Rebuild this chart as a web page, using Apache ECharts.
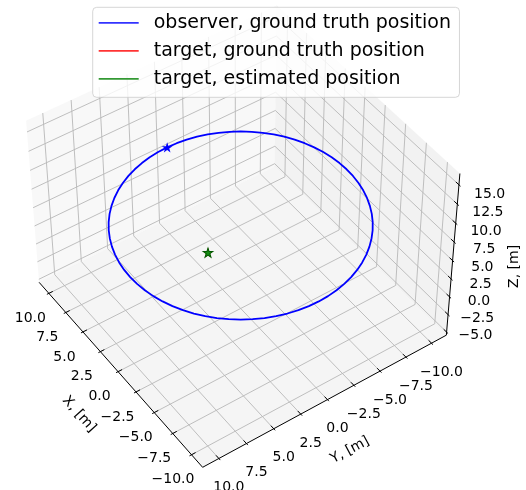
<!DOCTYPE html>
<html>
<head>
<meta charset="utf-8">
<script src="https://cdn.jsdelivr.net/npm/echarts@6/dist/echarts.min.js"></script>
<style>
  html, body { margin: 0; padding: 0; background: #ffffff; }
  #chart { width: 526px; height: 490px; }
</style>
</head>
<body>
<div id="chart"></div>
<script>
// ---- axis ranges, ticks and titles ----
const xLim = [-11, 11];
const yLim = [-11, 11];
const zLim = [-5, 16];
const xTicks = [-10, -7.5, -5, -2.5, 0, 2.5, 5, 7.5, 10];
const yTicks = [-10, -7.5, -5, -2.5, 0, 2.5, 5, 7.5, 10];
const zTicks = [-5, -2.5, 0, 2.5, 5, 7.5, 10, 12.5, 15];
const axisTitles = ['X, [m]', 'Y, [m]', 'Z, [m]'];

// ---- series ----
const seriesNames = [
  'observer, ground truth position',
  'target, ground truth position',
  'target, estimated position'
];

// observer ground-truth track (x, y in metres), flown at constant altitude
const observerX = [10.000, 9.962, 9.848, 9.659, 9.397, 9.063, 8.660, 8.192, 7.660, 7.071, 6.428, 5.736, 5.000, 4.226, 3.420, 2.588, 1.736, 0.872, 0.000,
  -0.872, -1.736, -2.588, -3.420, -4.226, -5.000, -5.736, -6.428, -7.071, -7.660, -8.192, -8.660, -9.063, -9.397, -9.659, -9.848, -9.962, -10.000,
  -9.962, -9.848, -9.659, -9.397, -9.063, -8.660, -8.192, -7.660, -7.071, -6.428, -5.736, -5.000, -4.226, -3.420, -2.588, -1.736, -0.872, 0.000,
  0.872, 1.736, 2.588, 3.420, 4.226, 5.000, 5.736, 6.428, 7.071, 7.660, 8.192, 8.660, 9.063, 9.397, 9.659, 9.848, 9.962, 10.000];
const observerY = [0.000, 0.872, 1.736, 2.588, 3.420, 4.226, 5.000, 5.736, 6.428, 7.071, 7.660, 8.192, 8.660, 9.063, 9.397, 9.659, 9.848, 9.962, 10.000,
  9.962, 9.848, 9.659, 9.397, 9.063, 8.660, 8.192, 7.660, 7.071, 6.428, 5.736, 5.000, 4.226, 3.420, 2.588, 1.736, 0.872, 0.000,
  -0.872, -1.736, -2.588, -3.420, -4.226, -5.000, -5.736, -6.428, -7.071, -7.660, -8.192, -8.660, -9.063, -9.397, -9.659, -9.848, -9.962, -10.000,
  -9.962, -9.848, -9.659, -9.397, -9.063, -8.660, -8.192, -7.660, -7.071, -6.428, -5.736, -5.000, -4.226, -3.420, -2.588, -1.736, -0.872, 0.000];
const observerAltitude = 6.6;

// target position: ground truth and estimate (x, y, z)
const targetTrue = [3, 1, 0];
const targetEstimate = [3, 1, 0];

// ---- perspective camera (elevation / azimuth in degrees) ----
const camera = { elev: 45, azim: 145, dist: 10 };
const boxAspect = [4, 4, 3];
const aspectNorm = Math.hypot(boxAspect[0], boxAspect[1], boxAspect[2]);
const box = boxAspect.map(a => a * 1.8294640721620434 / aspectNorm);
const el = camera.elev * Math.PI / 180;
const az = camera.azim * Math.PI / 180;
const W = [Math.cos(el) * Math.cos(az), Math.cos(el) * Math.sin(az), Math.sin(el)];
const U = [-Math.sin(az), Math.cos(az), 0];
const V = [-Math.sin(el) * Math.cos(az), -Math.sin(el) * Math.sin(az), Math.cos(el)];
const lims = [xLim, yLim, zLim];
const dot = (a, b) => a[0] * b[0] + a[1] * b[1] + a[2] * b[2];

// world point -> 2D view coordinates used by the cartesian axes below
function project(p) {
  const q = [0, 1, 2].map(i => ((p[i] - lims[i][0]) / (lims[i][1] - lims[i][0]) - 0.5) * box[i]);
  const depth = camera.dist - dot(W, q);
  return [dot(U, q) / depth, dot(V, q) / depth];
}

// drawn box is slightly larger than the limits
const lo = lims.map(l => l[0] - (l[1] - l[0]) / 48);
const hi = lims.map(l => l[1] + (l[1] - l[0]) / 48);
const delta = lims.map(l => (l[1] - l[0]) / 12);

// back panes
const panes = [
  { fill: 'rgba(242,242,242,0.5)', pts: [[hi[0], lo[1], lo[2]], [hi[0], hi[1], lo[2]], [hi[0], hi[1], hi[2]], [hi[0], lo[1], hi[2]]] },
  { fill: 'rgba(230,230,230,0.5)', pts: [[lo[0], lo[1], lo[2]], [hi[0], lo[1], lo[2]], [hi[0], lo[1], hi[2]], [lo[0], lo[1], hi[2]]] },
  { fill: 'rgba(236,236,236,0.5)', pts: [[lo[0], lo[1], lo[2]], [hi[0], lo[1], lo[2]], [hi[0], hi[1], lo[2]], [lo[0], hi[1], lo[2]]] }
];

// grid lines, folded over floor and walls
const gridLines = [];
xTicks.forEach(t => gridLines.push([[t, hi[1], lo[2]], [t, lo[1], lo[2]], [t, lo[1], hi[2]]]));
yTicks.forEach(t => gridLines.push([[lo[0], t, lo[2]], [hi[0], t, lo[2]], [hi[0], t, hi[2]]]));
zTicks.forEach(t => gridLines.push([[lo[0], lo[1], t], [hi[0], lo[1], t], [hi[0], hi[1], t]]));

// axis lines and tick marks
const axisSegs = [
  [[lo[0], hi[1], lo[2]], [hi[0], hi[1], lo[2]]],
  [[lo[0], lo[1], lo[2]], [lo[0], hi[1], lo[2]]],
  [[lo[0], lo[1], lo[2]], [lo[0], lo[1], hi[2]]]
];
xTicks.forEach(t => axisSegs.push([[t, hi[1] + 0.1 * delta[1], lo[2]], [t, hi[1] - 0.2 * delta[1], lo[2]]]));
yTicks.forEach(t => axisSegs.push([[lo[0] - 0.1 * delta[0], t, lo[2]], [lo[0] + 0.2 * delta[0], t, lo[2]]]));
zTicks.forEach(t => axisSegs.push([[lo[0] - 0.1 * delta[0], lo[1], t], [lo[0] + 0.2 * delta[0], lo[1], t]]));

// tick labels: anchor on the axis edge plus a screen offset
const fmt = v => (v < 0 ? '\u2212' : '') + Math.abs(v).toFixed(1);
const labels = [];
xTicks.forEach(t => labels.push({ p: [t, hi[1], lo[2]], dx: -18.5, dy: 25, text: fmt(t), rot: 0 }));
yTicks.forEach(t => labels.push({ p: [lo[0], t, lo[2]], dx: 10, dy: 29, text: fmt(t), rot: 0 }));
zTicks.forEach(t => labels.push({ p: [lo[0], lo[1], t], dx: 29.8 + 0.09 * (t - 5), dy: 6.3 + 0.29 * (t - 5), text: fmt(t), rot: 0 }));

// axis titles, rotated along each projected axis (angle in view space, y up)
function viewAngle(a, b) {
  const pa = project(a), pb = project(b);
  return Math.atan2(pb[1] - pa[1], pb[0] - pa[0]);
}
const xMid = (xLim[0] + xLim[1]) / 2, yMid = (yLim[0] + yLim[1]) / 2, zMid = (zLim[0] + zLim[1]) / 2;
labels.push({ p: [xMid, hi[1], lo[2]], dx: -39, dy: 42.6, text: axisTitles[0],
  rot: viewAngle([hi[0], hi[1], lo[2]], [lo[0], hi[1], lo[2]]) });
labels.push({ p: [lo[0], yMid, lo[2]], dx: 22.5, dy: 50.5, text: axisTitles[1],
  rot: viewAngle([lo[0], hi[1], lo[2]], [lo[0], lo[1], lo[2]]) });
labels.push({ p: [lo[0], lo[1], zMid], dx: 61.3, dy: 9.5, text: axisTitles[2], rot: Math.PI / 2 });

const FONT = '"DejaVu Sans", "Liberation Sans", sans-serif';
const STAR = 'path://M0,-1L0.2245,-0.309L0.9511,-0.309L0.3633,0.118L0.5878,0.809L0,0.382L-0.5878,0.809L-0.3633,0.118L-0.9511,-0.309L-0.2245,-0.309Z';
const placeholders = n => Array.from({ length: n }, () => [0, 0]);

const chart = echarts.init(document.getElementById('chart'), null, { renderer: 'canvas' });
chart.setOption({
  animation: false,
  backgroundColor: '#ffffff',
  grid: { left: -5.5, top: -1, width: 474.2, height: 474.2 },
  xAxis: { type: 'value', min: -0.095, max: 0.09, show: false },
  yAxis: { type: 'value', min: -0.095, max: 0.09, show: false },
  legend: {
    orient: 'vertical',
    left: 92.7,
    top: 7.3,
    z: 10,
    padding: [4.5, 8.5, 7.5, 6],
    itemGap: 6,
    itemWidth: 40,
    itemHeight: 1.8,
    icon: 'rect',
    backgroundColor: 'rgba(255,255,255,0.8)',
    borderColor: 'rgba(204,204,204,0.8)',
    borderWidth: 1,
    borderRadius: 4,
    selectedMode: false,
    itemStyle: { borderWidth: 0 },
    textStyle: { fontFamily: FONT, fontSize: 19, color: '#000000', lineHeight: 22, padding: [0, 0, 0, 10] },
    data: [
      { name: seriesNames[0], itemStyle: { color: '#3333ff', borderWidth: 0 } },
      { name: seriesNames[1], itemStyle: { color: '#ff3333', borderWidth: 0 } },
      { name: seriesNames[2], itemStyle: { color: '#339933', borderWidth: 0 } }
    ]
  },
  series: [
    {
      type: 'custom', silent: true, z: 1, data: placeholders(panes.length),
      renderItem: (params, api) => ({
        type: 'polygon',
        shape: { points: panes[params.dataIndex].pts.map(p => api.coord(project(p))) },
        style: { fill: panes[params.dataIndex].fill, stroke: null }
      })
    },
    {
      type: 'custom', silent: true, z: 2, data: placeholders(gridLines.length),
      renderItem: (params, api) => ({
        type: 'polyline',
        shape: { points: gridLines[params.dataIndex].map(p => api.coord(project(p))) },
        style: { stroke: '#b8b8b8', lineWidth: 0.9, fill: null }
      })
    },
    {
      type: 'custom', silent: true, z: 3, data: placeholders(axisSegs.length),
      renderItem: (params, api) => ({
        type: 'polyline',
        shape: { points: axisSegs[params.dataIndex].map(p => api.coord(project(p))) },
        style: { stroke: '#000000', lineWidth: 1, fill: null }
      })
    },
    {
      type: 'custom', silent: true, z: 3, data: placeholders(labels.length),
      renderItem: (params, api) => {
        const lb = labels[params.dataIndex];
        const c = api.coord(project(lb.p));
        return {
          type: 'text',
          x: c[0] + lb.dx,
          y: c[1] + lb.dy,
          rotation: lb.rot,
          style: { text: lb.text, fill: '#000000', fontSize: 14, fontFamily: FONT, align: 'center', verticalAlign: 'middle' }
        };
      }
    },
    {
      type: 'line', name: seriesNames[0], z: 5, silent: true,
      data: observerX.map((x, i) => project([x, observerY[i], observerAltitude])),
      showSymbol: false, symbol: 'none',
      lineStyle: { color: '#0000ff', width: 1.8 },
      itemStyle: { color: '#0000ff' }
    },
    {
      type: 'scatter', name: seriesNames[0], z: 6, silent: true,
      data: [project([observerX[0], observerY[0], observerAltitude])],
      symbol: STAR, symbolSize: [10.8, 10.3],
      itemStyle: { color: '#0000ff', opacity: 1 }
    },
    {
      type: 'scatter', name: seriesNames[1], z: 6, silent: true,
      data: [project(targetTrue)],
      symbol: STAR, symbolSize: [10.2, 9.7],
      itemStyle: { color: '#ff0000', opacity: 1 }
    },
    {
      type: 'scatter', name: seriesNames[2], z: 7, silent: true,
      data: [project(targetEstimate)],
      symbol: STAR, symbolSize: [9.6, 9.1],
      itemStyle: { color: '#138c13', borderColor: '#005a00', borderWidth: 1, opacity: 1 }
    }
  ]
});
</script>
</body>
</html>
